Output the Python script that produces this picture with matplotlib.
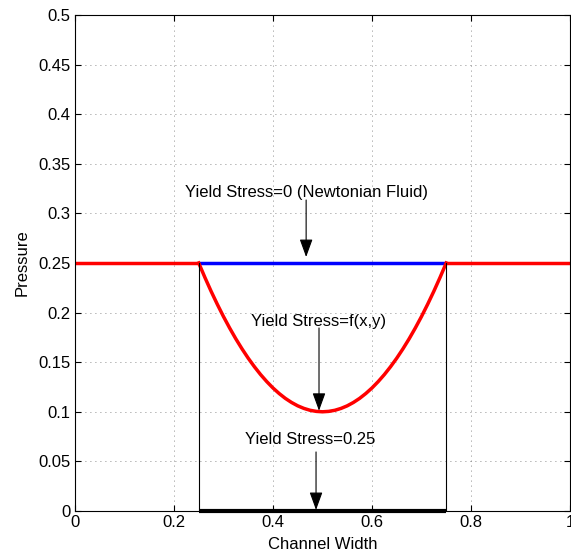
import matplotlib
matplotlib.use("Agg")
import matplotlib.pyplot as plt

plt.rcParams['font.family'] = ['Liberation Sans', 'DejaVu Sans']

# flat pressure outside the yield region
left_x = [0.0, 0.25]
right_x = [0.75, 1.0]
flat_p = [0.25, 0.25]

# newtonian case inside the channel
newt_x = [0.25, 0.75]
newt_p = [0.25, 0.25]

# yield stress = f(x,y) curve (left half, mirrored below)
half_x = [0.25, 0.2625, 0.275, 0.2875, 0.3, 0.3125, 0.325, 0.3375, 0.35, 0.3625,
          0.375, 0.3875, 0.4, 0.4125, 0.425, 0.4375, 0.45, 0.4625, 0.475, 0.4875, 0.5]
half_p = [0.25, 0.2354, 0.2215, 0.2084, 0.196, 0.1844, 0.1735, 0.1634, 0.154, 0.1454,
          0.1375, 0.1304, 0.124, 0.1184, 0.1135, 0.1094, 0.106, 0.1034, 0.1015, 0.1004, 0.1]
curve_x = half_x + [round(1 - v, 4) for v in half_x[-2::-1]]
curve_p = half_p + half_p[-2::-1]

# yield stress = 0.25 case
wall_x = [0.25, 0.75]
zero_x = [0.25, 0.75]
zero_p = [0.0, 0.0]

labels = ['Yield Stress=0 (Newtonian Fluid)', 'Yield Stress=f(x,y)', 'Yield Stress=0.25']
text_xy = [(0.468, 0.3215), (0.493, 0.1915), (0.475, 0.0716)]
arrow_from = [(0.467, 0.3135), (0.493, 0.1845), (0.487, 0.0595)]
arrow_to = [(0.467, 0.256), (0.493, 0.101), (0.487, 0.001)]

fig = plt.figure(figsize=(5.71, 5.59), dpi=100)
ax = fig.add_axes([0.1313, 0.0859, 0.8669, 0.8873])

ax.plot(left_x, flat_p, color='red', lw=2.5, solid_capstyle='butt')
ax.plot(right_x, flat_p, color='red', lw=2.5, solid_capstyle='butt')
ax.plot(newt_x, newt_p, color='blue', lw=2.5, solid_capstyle='butt')
ax.plot(curve_x, curve_p, color='red', lw=2.5)
for wx in wall_x:
    ax.plot([wx, wx], [0, 0.25], color='black', lw=0.8)
ax.plot(zero_x, zero_p, color='black', lw=3, solid_capstyle='butt', clip_on=False)

for lab, (tx, ty), (ax0, ay0), (ax1, ay1) in zip(labels, text_xy, arrow_from, arrow_to):
    ax.text(tx, ty, lab, ha='center', va='center', fontsize=12)
    ax.annotate('', xy=(ax1, ay1), xytext=(ax0, ay0),
                arrowprops=dict(arrowstyle='-|>,head_length=1.1,head_width=0.4',
                                color='black', lw=0.8, shrinkA=0, shrinkB=0))

ax.set_xlim(0, 1)
ax.set_ylim(0, 0.5)
ax.set_xticks([0, 0.2, 0.4, 0.6, 0.8, 1])
ax.set_xticklabels(['0', '0.2', '0.4', '0.6', '0.8', '1'])
ax.set_yticks([0, 0.05, 0.1, 0.15, 0.2, 0.25, 0.3, 0.35, 0.4, 0.45, 0.5])
ax.set_yticklabels(['0', '0.05', '0.1', '0.15', '0.2', '0.25', '0.3', '0.35', '0.4', '0.45', '0.5'])
ax.tick_params(direction='in', top=True, right=True, labelsize=12, length=4, pad=3)
ax.grid(True, linestyle=(0, (1, 5)), color='black', lw=0.6, alpha=0.6)
ax.set_xlabel('Channel Width', fontsize=12, labelpad=5)
ax.set_ylabel('Pressure', fontsize=12, labelpad=6)
for s in ax.spines.values():
    s.set_linewidth(0.8)

fig.savefig('out.png', dpi=100)
